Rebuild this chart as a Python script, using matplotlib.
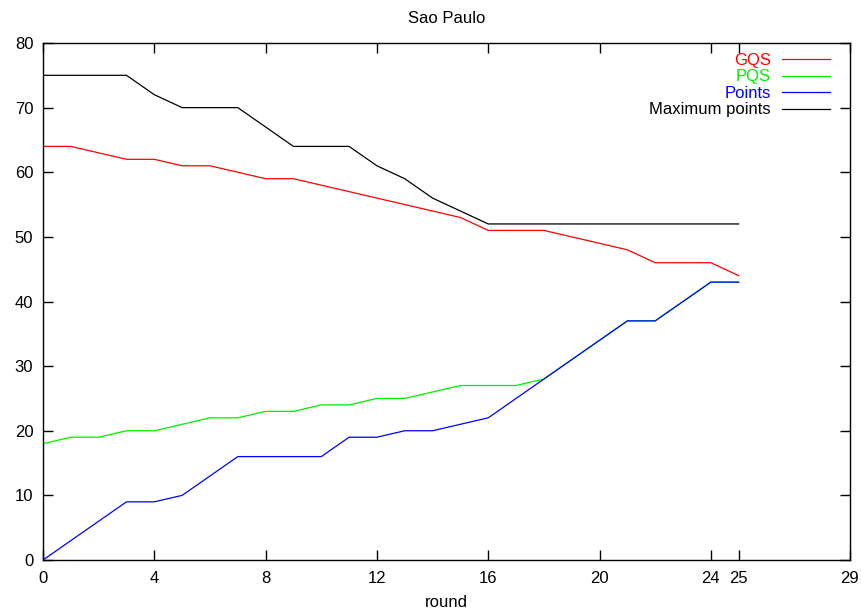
import matplotlib
matplotlib.use("Agg")
import matplotlib.pyplot as plt

rounds = list(range(26))
gqs = [64, 64, 63, 62, 62, 61, 61, 60, 59, 59, 58, 57, 56, 55, 54, 53,
       51, 51, 51, 50, 49, 48, 46, 46, 46, 44]
pqs = [18, 19, 19, 20, 20, 21, 22, 22, 23, 23, 24, 24, 25, 25, 26, 27,
       27, 27, 28, 31, 34, 37, 37, 40, 43, 43]
points = [0, 3, 6, 9, 9, 10, 13, 16, 16, 16, 16, 19, 19, 20, 20, 21,
          22, 25, 28, 31, 34, 37, 37, 40, 43, 43]
max_points = [75, 75, 75, 75, 72, 70, 70, 70, 67, 64, 64, 64, 61, 59, 56, 54,
              52, 52, 52, 52, 52, 52, 52, 52, 52, 52]

xticks = [0, 4, 8, 12, 16, 20, 24, 25, 29]
yticks = list(range(0, 81, 10))

plt.rcParams['font.family'] = ['Liberation Sans', 'DejaVu Sans']
fs = 12

fig = plt.figure(figsize=(8.62, 6.13), dpi=100)
ax = fig.add_axes([43 / 862, 1 - 560 / 613, (850 - 43) / 862, (560 - 43) / 613])

lw = 0.9
ax.plot(rounds, gqs, color='#ff0000', lw=lw, label='GQS')
ax.plot(rounds, pqs, color='#00ee00', lw=lw, label='PQS')
ax.plot(rounds, points, color='#0000ff', lw=lw, label='Points')
ax.plot(rounds, max_points, color='#000000', lw=lw, label='Maximum points')

ax.set_xlim(0, 29)
ax.set_ylim(0, 80)
ax.set_xticks(xticks)
ax.set_yticks(yticks)
ax.tick_params(direction='in', length=7, width=1, top=True, right=True,
               labelsize=fs)
ax.tick_params(axis='x', pad=8)
ax.tick_params(axis='y', pad=7)
for s in ax.spines.values():
    s.set_linewidth(1)

ax.set_title('Sao Paulo', fontsize=fs, pad=14.5)
ax.set_xlabel('round', fontsize=fs, labelpad=6.5)

# gnuplot-style key: right-aligned coloured text, sample line to the right
leg = ax.legend(loc='upper right', frameon=False, markerfirst=False,
                labelcolor='linecolor', alignment='right', handlelength=2.9,
                handletextpad=0.66, labelspacing=0.09, borderaxespad=0,
                borderpad=0, bbox_to_anchor=(0.9752, 0.9807), fontsize=fs)

fig.savefig('out.png', dpi=100)
